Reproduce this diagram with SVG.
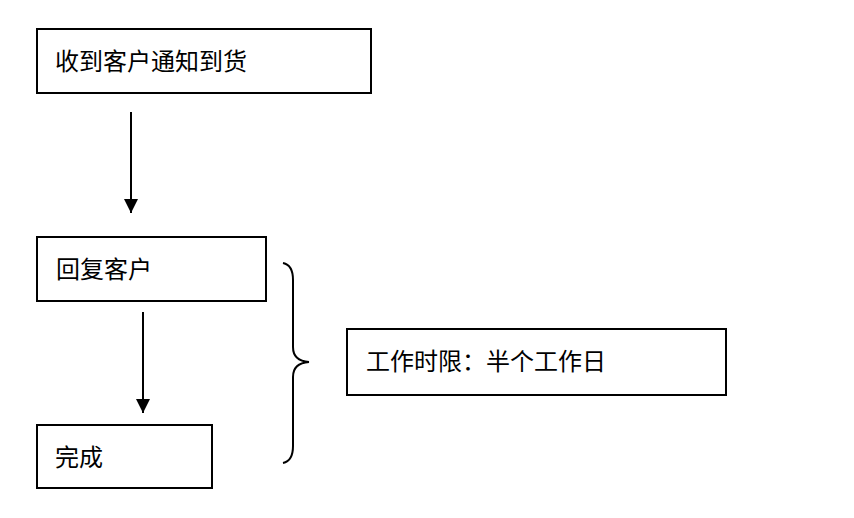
<svg xmlns="http://www.w3.org/2000/svg" width="854" height="518" viewBox="0 0 854 518">
<defs>
<style>
.box{fill:#fff;stroke:#000;stroke-width:2}
.t{font-family:"Noto Sans CJK SC","Noto Sans",sans-serif;font-size:24px;fill:#000}
.c{stroke:#000;stroke-width:2;fill:none}
</style>
<marker id="ah" viewBox="0 0 14 14" refX="14" refY="7" markerWidth="14" markerHeight="14" markerUnits="userSpaceOnUse" orient="auto">
<path d="M0,0 L14,7 L0,14 Z" fill="#000"/>
</marker>
</defs>
<rect width="854" height="518" fill="#fff"/>
<g id="n1"><rect class="box" x="37" y="29" width="334" height="64"/><text class="t" x="55" y="70">收到客户通知到货</text></g>
<g id="n2"><rect class="box" x="37" y="237" width="229" height="64"/><text class="t" x="56" y="278">回复客户</text></g>
<g id="n3"><rect class="box" x="37" y="425" width="175" height="63"/><text class="t" x="55" y="466">完成</text></g>
<g id="n4"><rect class="box" x="347" y="329" width="379" height="66"/><text class="t" x="366" y="370">工作时限：半个工作日</text></g>
<g id="connectors">
<line class="c" x1="131" y1="112" x2="131" y2="213" marker-end="url(#ah)"/>
<line class="c" x1="143" y1="312" x2="143" y2="413" marker-end="url(#ah)"/>
<path class="c" d="M283,263 Q293,265 293,280 L293,347 Q293,361 309,362 Q293,363 293,377 L293,446 Q293,461 283,463"/>
</g>
</svg>
